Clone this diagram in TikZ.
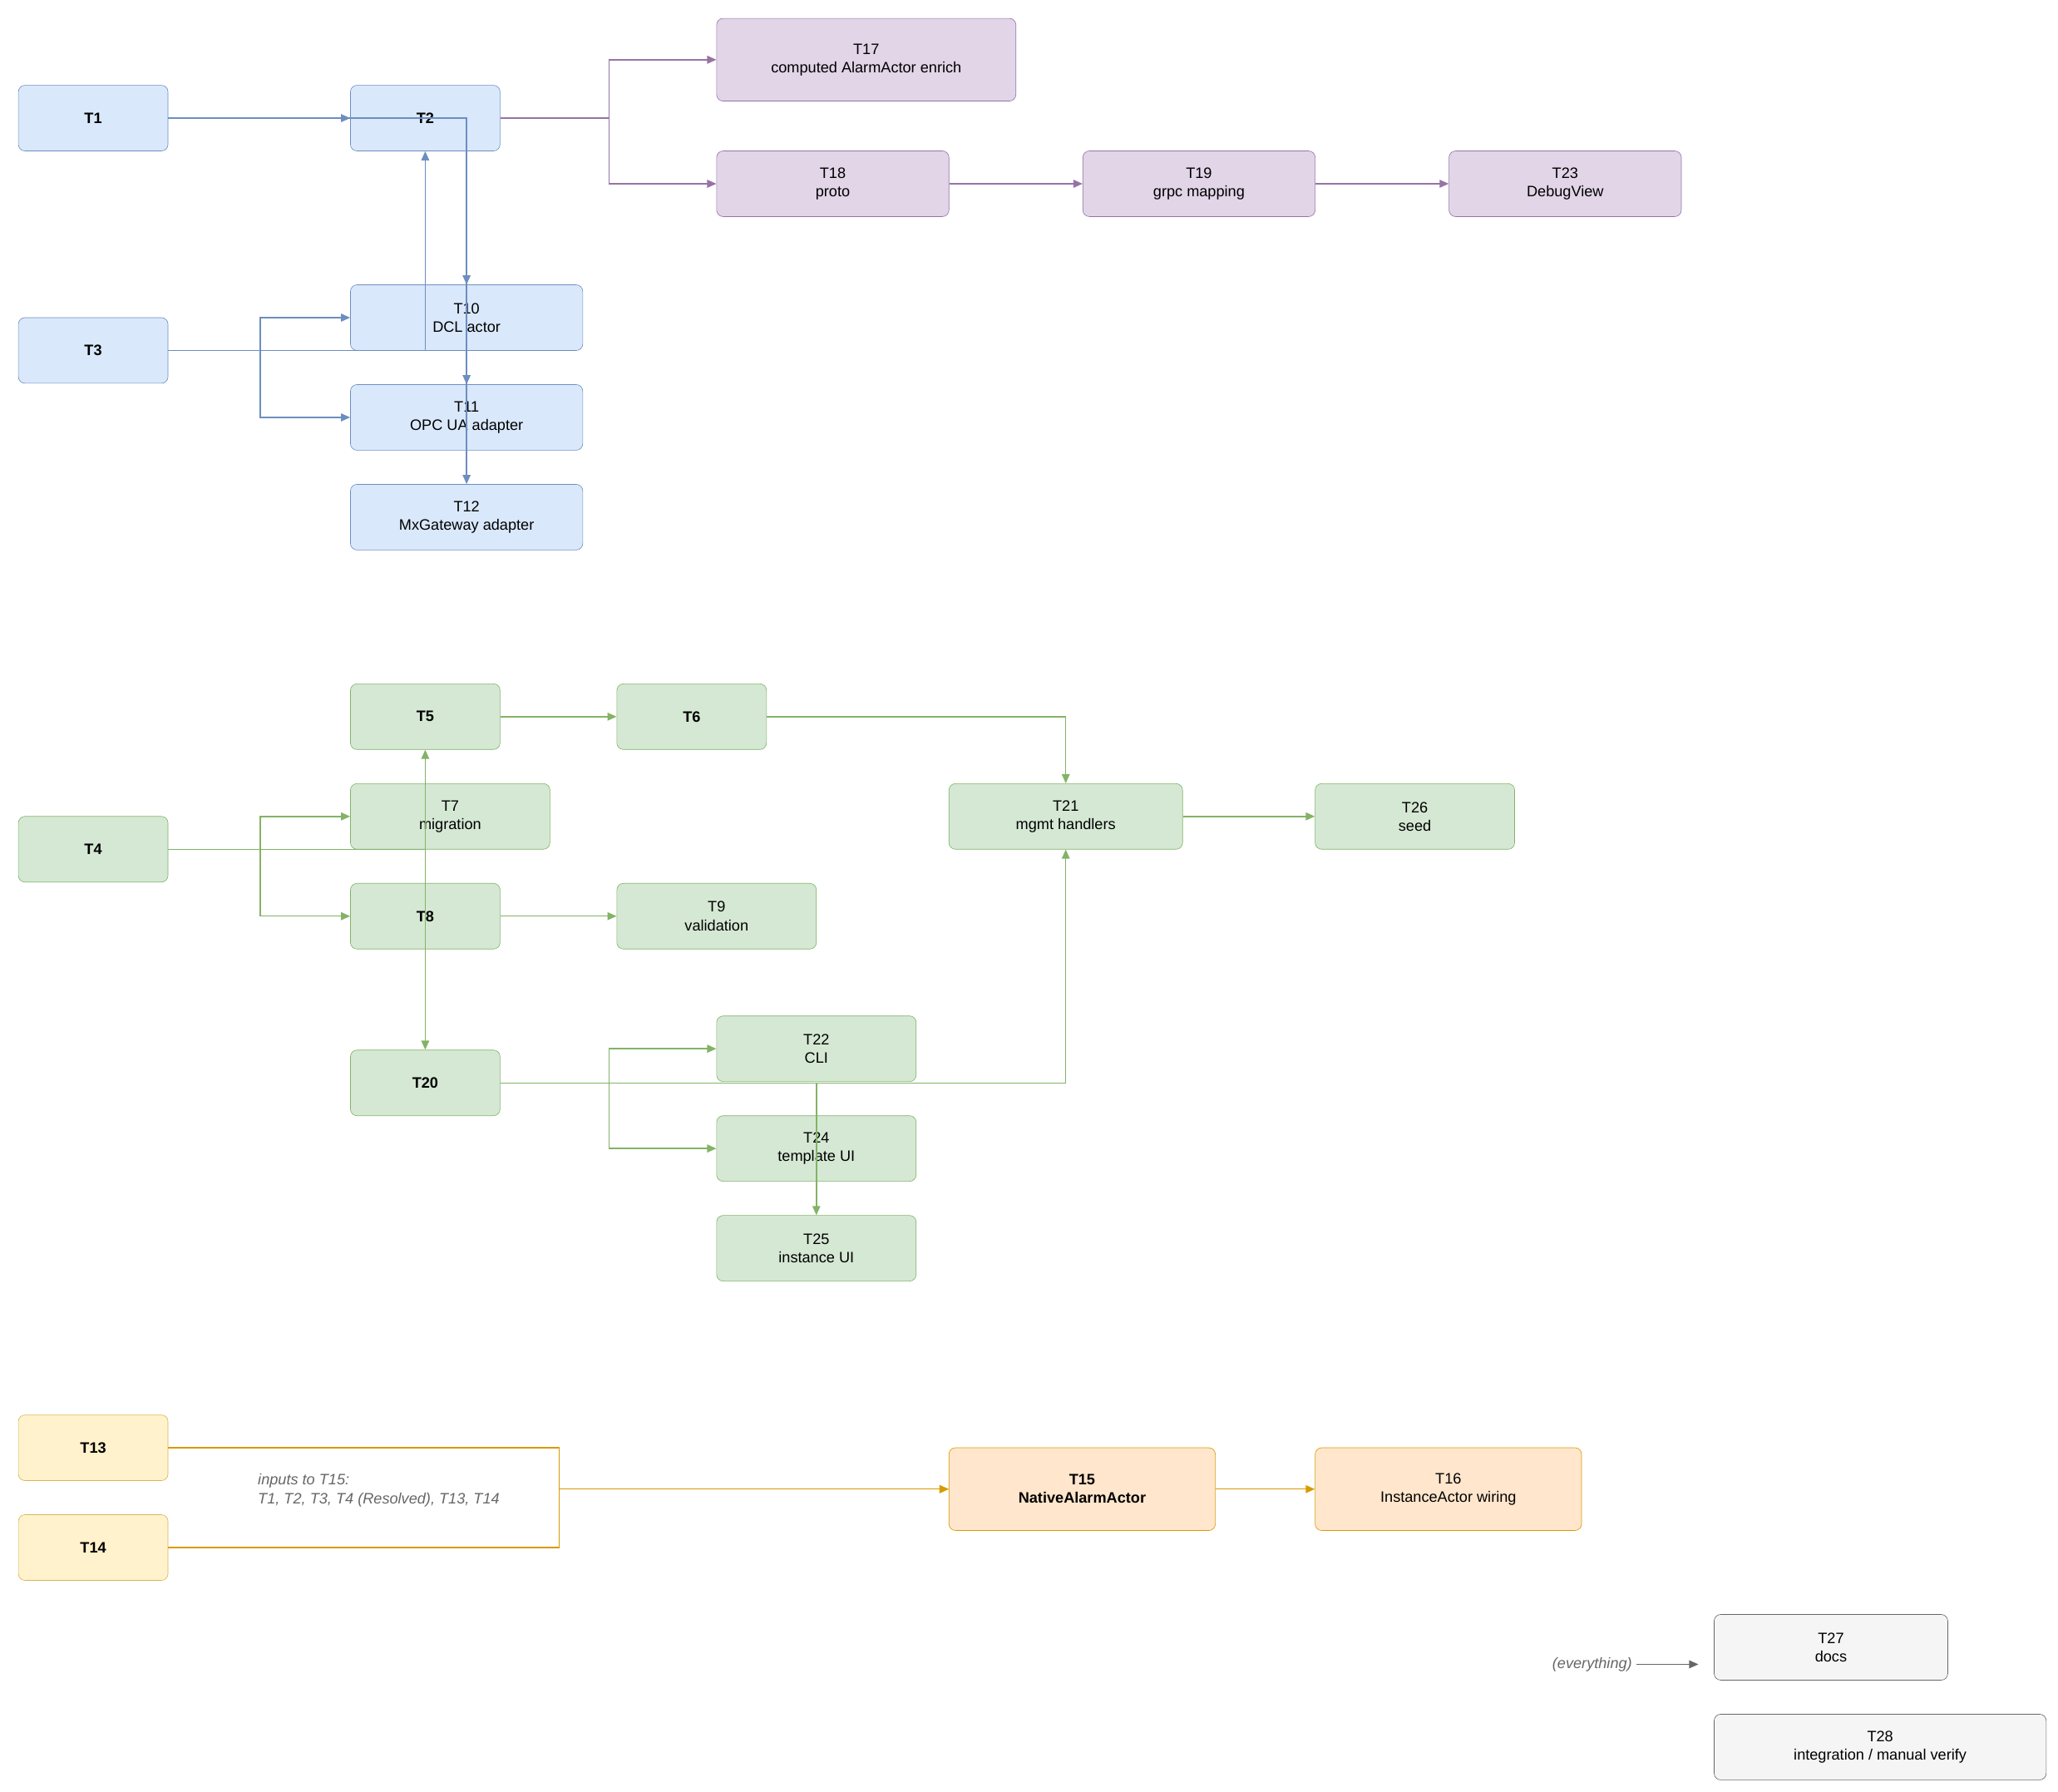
\documentclass[tikz,border=0pt]{standalone}
\usepackage{fontspec}
\setmainfont{Liberation Sans}
\usetikzlibrary{arrows.meta}
\definecolor{bluefill}{HTML}{DAE8FC}\definecolor{bluedraw}{HTML}{6C8EBF}
\definecolor{greenfill}{HTML}{D5E8D4}\definecolor{greendraw}{HTML}{82B366}
\definecolor{purplefill}{HTML}{E1D5E7}\definecolor{purpledraw}{HTML}{9673A6}
\definecolor{yellowfill}{HTML}{FFF2CC}\definecolor{yellowdraw}{HTML}{D6B656}
\definecolor{orangefill}{HTML}{FFE6CC}\definecolor{orangedraw}{HTML}{D79B00}
\definecolor{grayfill}{HTML}{F5F5F5}\definecolor{graydraw}{HTML}{666666}
\tikzset{
  task/.style={draw, rounded corners=5pt, align=center, inner sep=0pt, font=\fontsize{11.5}{14}\selectfont},
  blue/.style={task, fill=bluefill, draw=bluedraw},
  green/.style={task, fill=greenfill, draw=greendraw},
  purple/.style={task, fill=purplefill, draw=purpledraw},
  yellow/.style={task, fill=yellowfill, draw=yellowdraw},
  orange/.style={task, fill=orangefill, draw=orangedraw},
  gray/.style={task, fill=grayfill, draw=graydraw},
  dep/.style={-{Triangle[length=7pt,width=6pt]}, line width=0.9pt},
  note/.style={font=\fontsize{11.5}{14}\selectfont\itshape, text=graydraw, align=left},
}
\newcommand{\taskbox}[7]{% style, name, x1, y1, x2, y2, text
  \node[#1, minimum width=#5-#3, minimum height=#6-#4] (#2) at ({(#3+#5)/2},{(#4+#6)/2}) {#7};}
\begin{document}
\begin{tikzpicture}[x=1pt,y=1pt,yscale=-1]
\useasboundingbox (0,0) rectangle (1568,1365);

% blue group
\taskbox{blue}{t1}{14}{65}{128}{115}{\textbf{T1}}
\taskbox{blue}{t2}{267}{65}{381}{115}{\textbf{T2}}
\taskbox{blue}{t3}{14}{242}{128}{292}{\textbf{T3}}
\taskbox{blue}{t10}{267}{217}{444}{267}{T10\\DCL actor}
\taskbox{blue}{t11}{267}{293}{444}{343}{T11\\OPC UA adapter}
\taskbox{blue}{t12}{267}{369}{444}{419}{T12\\MxGateway adapter}
% purple group
\taskbox{purple}{t17}{546}{14}{774}{77}{T17\\computed AlarmActor enrich}
\taskbox{purple}{t18}{546}{115}{723}{165}{T18\\proto}
\taskbox{purple}{t19}{825}{115}{1002}{165}{T19\\grpc mapping}
\taskbox{purple}{t23}{1104}{115}{1281}{165}{T23\\DebugView}
% green group
\taskbox{green}{t5}{267}{521}{381}{571}{\textbf{T5}}
\taskbox{green}{t6}{470}{521}{584}{571}{\textbf{T6}}
\taskbox{green}{t4}{14}{622}{128}{672}{\textbf{T4}}
\taskbox{green}{t7}{267}{597}{419}{647}{T7\\migration}
\taskbox{green}{t8}{267}{673}{381}{723}{\textbf{T8}}
\taskbox{green}{t9}{470}{673}{622}{723}{T9\\validation}
\taskbox{green}{t20}{267}{800}{381}{850}{\textbf{T20}}
\taskbox{green}{t21}{723}{597}{901}{647}{T21\\mgmt handlers}
\taskbox{green}{t26}{1002}{597}{1154}{647}{T26\\seed}
\taskbox{green}{t22}{546}{774}{698}{824}{T22\\CLI}
\taskbox{green}{t24}{546}{850}{698}{900}{T24\\template UI}
\taskbox{green}{t25}{546}{926}{698}{976}{T25\\instance UI}
% yellow / orange group
\taskbox{yellow}{t13}{14}{1078}{128}{1128}{\textbf{T13}}
\taskbox{yellow}{t14}{14}{1154}{128}{1204}{\textbf{T14}}
\taskbox{orange}{t15}{723}{1103}{926}{1166}{\textbf{T15}\\\textbf{NativeAlarmActor}}
\taskbox{orange}{t16}{1002}{1103}{1205}{1166}{T16\\InstanceActor wiring}
% gray group
\taskbox{gray}{t27}{1306}{1230}{1484}{1280}{T27\\docs}
\taskbox{gray}{t28}{1306}{1306}{1559}{1356}{T28\\integration / manual verify}

% blue edges
\begin{scope}[dep, draw=bluedraw]
\draw (t1.east) -- (t2.west);
\draw (t1.east) -| (t10.north);
\draw (t1.east) -| (t11.north);
\draw (t1.east) -| (t12.north);
\draw (t3.east) -| (t2.south);
\draw (t3.east) -- ++(70,0) |- (t10.west);
\draw (t3.east) -- ++(70,0) |- (t11.west);
\end{scope}
% purple edges
\begin{scope}[dep, draw=purpledraw]
\draw (t2.east) -- ++(83,0) |- (t17.west);
\draw (t2.east) -- ++(83,0) |- (t18.west);
\draw (t18) -- (t19);
\draw (t19) -- (t23);
\end{scope}
% green edges
\begin{scope}[dep, draw=greendraw]
\draw (t5) -- (t6);
\draw (t6.east) -| (t21.north);
\draw (t4.east) -| (t5.south);
\draw (t4.east) -| (t20.north);
\draw (t4.east) -- ++(70,0) |- (t7.west);
\draw (t4.east) -- ++(70,0) |- (t8.west);
\draw (t8) -- (t9);
\draw (t21) -- (t26);
\draw (t20.east) -| (t21.south);
\draw (t20.east) -- ++(83,0) |- (t22.west);
\draw (t20.east) -- ++(83,0) |- (t24.west);
\draw (t20.east) -| (t25.north);
\end{scope}
% orange edges
\begin{scope}[dep, draw=orangedraw]
\draw (t13.east) -- ++(298,0) |- (t15.west);
\draw (t14.east) -- ++(298,0) |- (t15.west);
\draw (t15) -- (t16);
\end{scope}
\node[note, anchor=west] (inputs) at (193,1135.5) {inputs to T15:\\T1, T2, T3, T4 (Resolved), T13, T14};

% everything
\node[note, anchor=east] (everything) at (1247,1268) {(everything)};
\coordinate (docsin) at (1294,1268);
\draw[dep, draw=graydraw] (everything.east) -- (docsin);
\end{tikzpicture}
\end{document}
